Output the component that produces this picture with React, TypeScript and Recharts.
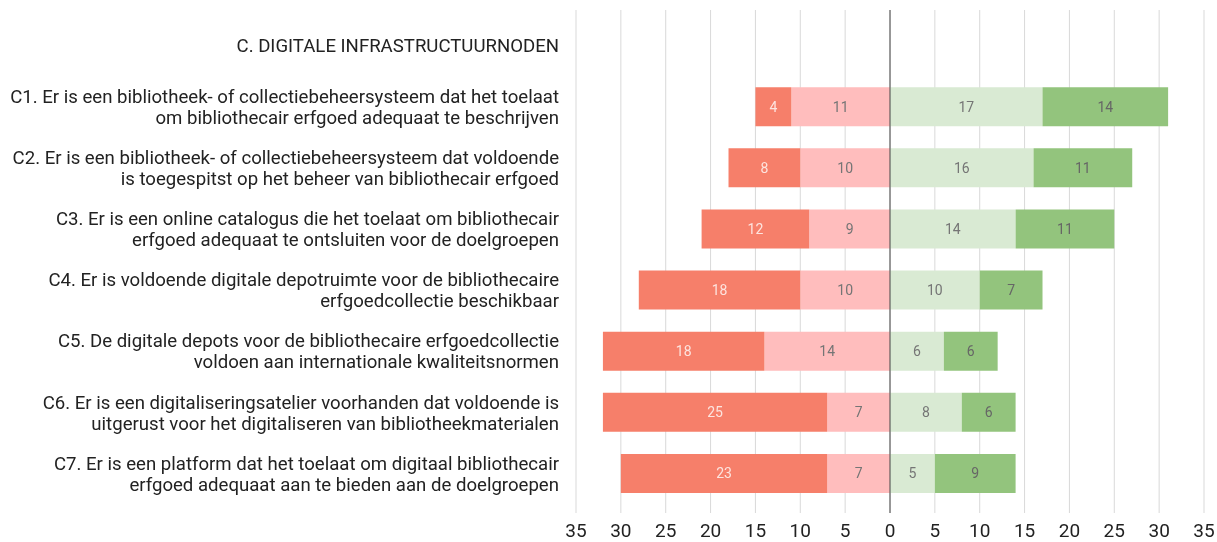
import React from 'react';
import { BarChart, Bar, XAxis, YAxis, CartesianGrid, ReferenceLine, LabelList } from 'recharts';

const categories = [
  'C. DIGITALE INFRASTRUCTUURNODEN',
  'C1. Er is een bibliotheek- of collectiebeheersysteem dat het toelaat\nom bibliothecair erfgoed adequaat te beschrijven',
  'C2. Er is een bibliotheek- of collectiebeheersysteem dat voldoende\nis toegespitst op het beheer van bibliothecair erfgoed',
  'C3. Er is een online catalogus die het toelaat om bibliothecair\nerfgoed adequaat te ontsluiten voor de doelgroepen',
  'C4. Er is voldoende digitale depotruimte voor de bibliothecaire\nerfgoedcollectie beschikbaar',
  'C5. De digitale depots voor de bibliothecaire erfgoedcollectie\nvoldoen aan internationale kwaliteitsnormen',
  'C6. Er is een digitaliseringsatelier voorhanden dat voldoende is\nuitgerust voor het digitaliseren van bibliotheekmaterialen',
  'C7. Er is een platform dat het toelaat om digitaal bibliothecair\nerfgoed adequaat aan te bieden aan de doelgroepen',
];

// negative side (shown as absolute values)
const stronglyDisagree = [null, 4, 8, 12, 18, 18, 25, 23];
const disagree = [null, 11, 10, 9, 10, 14, 7, 7];
// positive side
const agree = [null, 17, 16, 14, 10, 6, 8, 5];
const stronglyAgree = [null, 14, 11, 11, 7, 6, 6, 9];

const xTicks = [-35, -30, -25, -20, -15, -10, -5, 0, 5, 10, 15, 20, 25, 30, 35];

const data = categories.map((c, i) => ({
  name: c,
  disagree: disagree[i] == null ? null : -(disagree[i] as number),
  stronglyDisagree: stronglyDisagree[i] == null ? null : -(stronglyDisagree[i] as number),
  agree: agree[i],
  stronglyAgree: stronglyAgree[i],
}));

const FONT = 'Roboto, "Noto Sans", sans-serif';

const CategoryTick = (props: any) => {
  const { x, y, payload } = props;
  const lines = String(payload.value).split('\n');
  const lh = 21;
  const start = y - ((lines.length - 1) * lh) / 2;
  return (
    <g>
      {lines.map((l: string, i: number) => (
        <text
          key={i}
          x={x - 9}
          y={start + i * lh}
          dy="0.36em"
          textAnchor="end"
          fill="#222"
          fontSize={18.6}
          fontFamily={FONT}
        >
          {l}
        </text>
      ))}
    </g>
  );
};

const makeLabel = (color: string) => (props: any) => {
  const { x, y, width, height, value } = props;
  if (value == null || value === 0) return null;
  return (
    <text
      x={x + width / 2}
      y={y + height / 2}
      dy="0.36em"
      textAnchor="middle"
      fill={color}
      fontSize={14}
      fontFamily={FONT}
    >
      {Math.abs(value)}
    </text>
  );
};

export default function App() {
  return (
    <div style={{ fontFamily: FONT, position: 'fixed', top: 0, left: 0, width: 1217, height: 542 }}>
      <BarChart
        width={1217}
        height={542}
        data={data}
        layout="vertical"
        stackOffset="sign"
        margin={{ top: 10, right: 13, bottom: 0, left: 8 }}
      >
        <CartesianGrid horizontal={false} stroke="#d9d9d9" />
        <XAxis
          type="number"
          domain={[-35, 35]}
          ticks={xTicks}
          tickFormatter={(v: number) => String(Math.abs(v))}
          axisLine={false}
          tickLine={false}
          tickSize={0}
          tickMargin={11}
          height={29}
          tick={{ fill: '#222', fontSize: 19, fontFamily: FONT }}
          interval={0}
        />
        <YAxis
          type="category"
          dataKey="name"
          width={568}
          axisLine={false}
          tickLine={false}
          tick={<CategoryTick />}
          interval={0}
          padding={{ top: 5, bottom: 9 }}
        />
        <Bar dataKey="disagree" stackId="s" fill="#ffbdbd" barSize={39} isAnimationActive={false}>
          <LabelList dataKey="disagree" content={makeLabel('#757575')} />
        </Bar>
        <Bar dataKey="stronglyDisagree" stackId="s" fill="#f67f6a" barSize={39} isAnimationActive={false}>
          <LabelList dataKey="stronglyDisagree" content={makeLabel('#fde4df')} />
        </Bar>
        <Bar dataKey="agree" stackId="s" fill="#d9ead3" barSize={39} isAnimationActive={false}>
          <LabelList dataKey="agree" content={makeLabel('#757575')} />
        </Bar>
        <Bar dataKey="stronglyAgree" stackId="s" fill="#93c47d" barSize={39} isAnimationActive={false}>
          <LabelList dataKey="stronglyAgree" content={makeLabel('#666')} />
        </Bar>
        <ReferenceLine x={0} stroke="#444" strokeWidth={1} />
      </BarChart>
    </div>
  );
}
